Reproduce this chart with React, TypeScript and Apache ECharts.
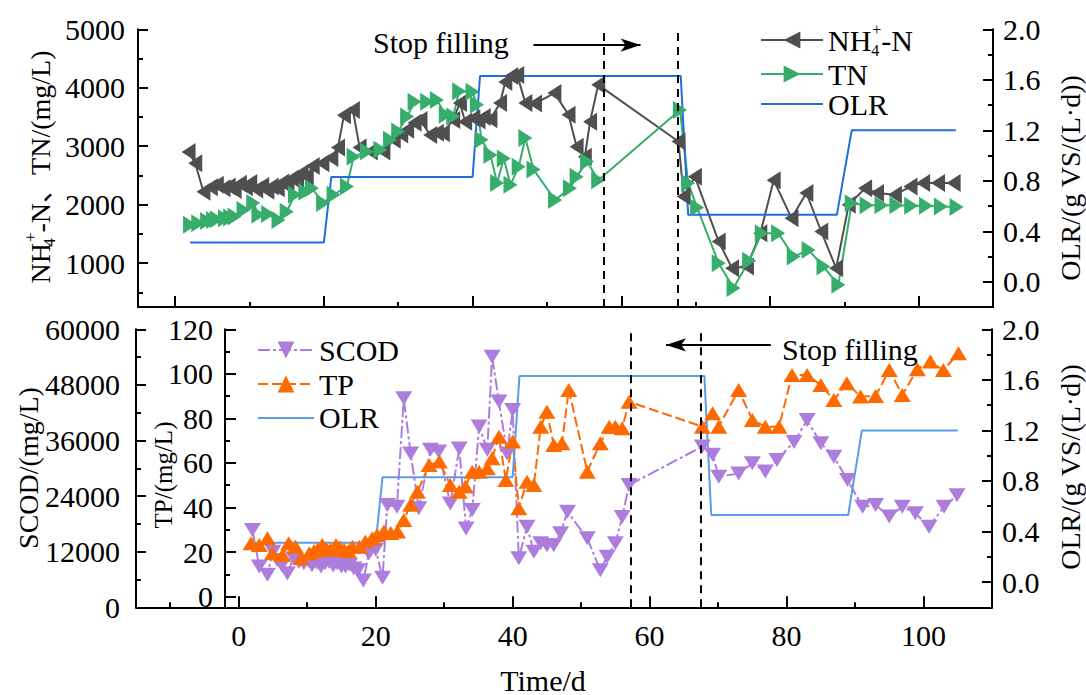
import React, { useEffect, useRef } from "react";
import * as echarts from "echarts";

const FONT = "Liberation Serif, Times New Roman, Noto Sans CJK SC, serif";
const FS = 30;

// ---------- data (day, value) ----------
const nh4Series: [number, number][] = [
  [1.8, 2900], [2.7, 2710], [3.8, 2220], [4.8, 2300], [5.6, 2340], [6.5, 2280], [7.2, 2310],
  [8.0, 2250], [8.7, 2360], [9.5, 2300], [10.1, 2370], [10.9, 2260], [11.7, 2320], [12.4, 2240],
  [13.0, 2310], [13.8, 2280], [14.4, 2380], [15.1, 2330], [15.7, 2450], [16.4, 2400], [17.0, 2540],
  [17.7, 2480], [18.5, 2660], [19.8, 2710], [21.0, 2800], [21.9, 2980], [22.7, 3530], [23.9, 3620],
  [24.8, 2980], [26.3, 2910], [28.0, 2910], [29.4, 3110], [30.4, 3200], [31.2, 3280], [32.2, 3400],
  [33.0, 3450], [34.3, 3190], [35.2, 3230], [36.0, 3220], [37.4, 3450], [38.3, 3740], [39.0, 3420],
  [40.1, 3480], [40.8, 3440], [41.5, 3500], [42.4, 3460], [43.7, 3740], [44.4, 4100], [45.2, 4200],
  [46.0, 4220], [47.1, 3740], [48.4, 3730], [51.0, 3910], [52.9, 3540], [54.0, 2990], [55.1, 2820],
  [55.8, 3420], [56.9, 4050], [67.7, 3080], [68.4, 2140], [69.9, 2480], [73.1, 1370], [74.9, 914],
  [76.9, 942], [78.7, 1510], [80.5, 2420], [82.9, 1770], [84.9, 2200], [86.9, 1540], [88.9, 914],
  [90.6, 2000], [92.8, 2280], [94.4, 2200], [96.8, 2170], [98.9, 2310], [100.6, 2370],
  [102.6, 2370], [104.7, 2370],
];

const tnSeries: [number, number][] = [
  [2.0, 1655], [3.1, 1684], [4.3, 1723], [5.1, 1740], [5.6, 1752], [6.7, 1770], [7.4, 1780],
  [8.0, 1800], [9.2, 1910], [10.5, 2030], [11.2, 1830], [12.5, 1840], [13.9, 1740], [15.0, 1880],
  [16.1, 2170], [17.5, 2220], [18.4, 2280], [19.9, 2030], [21.3, 2170], [23.1, 2310], [24.0, 2820],
  [25.8, 2910], [27.6, 2940], [28.9, 3110], [30.0, 3250], [31.2, 3510], [32.2, 3760], [33.9, 3760],
  [35.2, 3790], [36.4, 3540], [37.4, 3510], [38.2, 3940], [40.0, 3930], [40.6, 3710], [41.2, 3110],
  [42.4, 2850], [43.3, 2370], [44.2, 2790], [45.1, 2340], [46.2, 2650], [47.1, 3140], [48.2, 2600],
  [51.1, 2080], [53.1, 2280], [54.0, 2480], [55.4, 2740], [56.9, 2420], [67.9, 3620], [69.0, 2370],
  [70.2, 1950], [73.1, 1000], [75.1, 573], [77.2, 1040], [78.9, 1513], [81.1, 1513], [83.2, 1113],
  [85.2, 1227], [87.2, 942], [89.2, 629], [91.0, 2026], [93.0, 1990], [95.0, 1990], [97.0, 1990],
  [99.0, 1980], [101.0, 1980], [103.0, 1970], [105.1, 1960],
];

const olrSteps: [number, number][] = [
  [2, 0.31], [20, 0.31], [21, 0.83], [40, 0.83], [41, 1.63], [68, 1.63], [69, 0.53], [89, 0.53],
  [91, 1.2], [105, 1.2],
];

const scodSeries: [number, number][] = [
  [2.0, 16700], [3.0, 8800], [4.2, 7000], [5.0, 12000], [5.6, 10200], [6.3, 9000], [7.1, 7300],
  [8.0, 10600], [8.8, 9800], [9.5, 9500], [10.2, 10000], [10.7, 9100], [11.4, 9600], [12.0, 8800],
  [12.6, 9500], [13.2, 9800], [13.8, 9000], [14.4, 9500], [15.0, 8800], [15.6, 8800], [16.2, 9200],
  [16.8, 8400], [17.4, 8000], [18.2, 5800], [19.0, 11600], [20.0, 12500], [21.0, 6400], [21.7, 22100],
  [23.1, 21700], [24.1, 45100], [25.1, 33200], [26.3, 21400], [28.0, 34000], [29.2, 33600],
  [30.9, 22400], [32.2, 34300], [33.2, 17000], [34.1, 21000], [35.1, 39000], [36.3, 34000],
  [37.0, 54100], [38.0, 44400], [39.2, 33200], [40.0, 42600], [40.9, 10600], [42.1, 17400],
  [43.1, 12000], [44.1, 13800], [45.0, 13400], [46.0, 13400], [47.0, 16000], [48.0, 20600],
  [50.9, 14900], [52.8, 8000], [53.8, 10900], [55.0, 13800], [56.0, 19500], [57.0, 26400],
  [67.7, 34700], [69.2, 32900], [70.1, 28200], [73.0, 28900], [75.0, 31100], [76.9, 29300],
  [78.6, 31800], [81.1, 35700], [83.0, 40400], [85.0, 35400], [86.9, 32500], [88.9, 27500],
  [91.1, 21700], [93.0, 22100], [95.0, 19600], [96.9, 21700], [98.8, 20300], [100.8, 17400],
  [103.0, 21700], [104.9, 24200],
];

const tpSeries: [number, number][] = [
  [1.8, 24.0], [3.0, 23.2], [4.2, 26.2], [4.9, 19.5], [6.4, 18.7], [7.3, 24.0], [8.3, 22.4],
  [9.1, 17.2], [10.3, 19.5], [11.0, 20.5], [11.5, 21.0], [12.2, 23.2], [12.8, 21.5], [13.4, 21.0],
  [14.2, 23.2], [14.8, 22.0], [15.4, 21.0], [16.0, 20.5], [16.6, 22.4], [17.6, 22.4], [18.5, 24.7],
  [19.5, 26.2], [20.2, 27.7], [21.2, 29.2], [22.2, 28.5], [23.2, 29.2], [24.1, 34.4], [25.1, 41.2],
  [26.1, 47.1], [27.8, 59.1], [29.3, 60.6], [30.9, 50.1], [32.2, 47.1], [33.1, 49.4], [34.1, 56.1],
  [35.1, 56.1], [36.3, 57.6], [37.0, 62.1], [38.0, 71.8], [39.0, 52.4], [40.0, 69.6], [40.9, 39.7],
  [42.1, 51.6], [43.1, 50.1], [44.1, 76.3], [45.0, 83.0], [46.0, 68.1], [47.2, 68.9], [48.2, 92.8],
  [50.9, 56.1], [52.8, 68.9], [54.1, 76.3], [55.0, 76.3], [56.0, 75.6], [57.0, 87.5], [67.7, 76.3],
  [69.2, 82.3], [70.1, 76.3], [73.0, 92.8], [75.0, 79.3], [76.9, 76.3], [78.9, 76.3], [80.8, 99.5],
  [83.0, 99.5], [85.0, 95.0], [86.9, 88.3], [88.8, 95.8], [90.8, 89.8], [93.0, 90.1], [95.0, 101.7],
  [96.9, 90.5], [99.1, 102.1], [101.0, 105.5], [102.9, 101.7], [105.1, 109.2],
];

const stopDaysTop = [57.7, 67.6];
const stopDaysBottom = [57.2, 67.4];
const arrowTop: [number, number][] = [[48.2, 4730], [62.6, 4730]];
const arrowBottom: [number, number][] = [[77.7, 113], [62.4, 113]];

// ---------- ticks ----------
const xMajor = [0, 20, 40, 60, 80, 100];
const xMinorTop = [10, 30, 50, 70, 90];
const xMinorBottom = [-10, 10, 30, 50, 70, 90];
const nLabels = [1000, 2000, 3000, 4000, 5000];
const nMinor = [500, 1500, 2500, 3500, 4500];
const olrLabels = [0, 0.4, 0.8, 1.2, 1.6, 2.0];
const olrMinor = [0.2, 0.6, 1.0, 1.4, 1.8];
const scodLabels = [0, 12000, 24000, 36000, 48000, 60000];
const scodMinor = [6000, 18000, 30000, 42000, 54000];
const tpLabels = [0, 20, 40, 60, 80, 100, 120];
const tpMinor = [10, 30, 50, 70, 90, 110];

// ---------- styles ----------
const C_NH4 = "#4f4f4f";
const C_TN = "#37ad6b";
const C_SCOD = "#ad7ddd";
const C_TP = "#ff6a00";
const C_OLR1 = "#1f6ede";
const C_OLR2 = "#5b9ce9";
const LEFT = "path://M0,10L17,0L17,20Z";
const RIGHT = "path://M17,10L0,0L0,20Z";
const DOWN = "path://M0,0L20,0L10,16Z";
const UP = "path://M10,0L20,16L0,16Z";
const AX = { color: "#000", width: 2 };

const rich = {
  a: { fontSize: FS, fontFamily: FONT, color: "#000", lineHeight: 38 },
  s: { fontSize: 16, fontFamily: FONT, color: "#000", lineHeight: 18, verticalAlign: "bottom", width: 1 },
  p: { fontSize: 16, fontFamily: FONT, color: "#000", lineHeight: 18, verticalAlign: "top" },
};
const richT = {
  a: { fontSize: 28, fontFamily: FONT, fill: "#000", lineHeight: 36 },
  s: { fontSize: 17, fontFamily: FONT, fill: "#000", lineHeight: 36, verticalAlign: "bottom", width: 1 },
  p: { fontSize: 17, fontFamily: FONT, fill: "#000", lineHeight: 36, verticalAlign: "top" },
};

function axisDef(o: any) {
  return {
    type: "value",
    gridIndex: o.grid,
    position: o.position,
    min: o.min,
    max: o.max,
    offset: o.offset || 0,
    axisLine: { show: o.line !== false, onZero: false, lineStyle: AX },
    axisTick: { show: true, inside: true, length: o.tickLen, customValues: o.ticks, lineStyle: AX },
    axisLabel: o.labels
      ? {
          show: true,
          customValues: o.labels,
          margin: o.margin,
          color: "#000",
          fontSize: o.fontSize || FS,
          fontFamily: FONT,
          formatter: o.formatter || ((v: number) => String(v)),
        }
      : { show: false },
    splitLine: { show: false },
  };
}

const fmt1 = (v: number) => v.toFixed(1);
const textStyle = (size: number) => ({ fontSize: size, fontFamily: FONT, fill: "#000", align: "center", verticalAlign: "middle" });
const hiddenSymbol = { opacity: 0, color: "transparent", borderWidth: 0 };

const option: any = {
  animation: false,
  backgroundColor: "#fff",
  textStyle: { fontFamily: FONT },
  grid: [
    { left: 138, top: 29.3, width: 855, height: 277.7 },
    { left: 136, top: 329.3, width: 856, height: 278 },
  ],
  xAxis: [
    axisDef({ grid: 0, position: "bottom", min: -5, max: 110, ticks: xMajor, tickLen: 11 }),
    axisDef({ grid: 0, position: "bottom", min: -5, max: 110, ticks: xMinorTop, tickLen: 5, line: false }),
    axisDef({ grid: 1, position: "bottom", min: -15, max: 110, ticks: xMajor, tickLen: 11, labels: xMajor, margin: 13 }),
    axisDef({ grid: 1, position: "bottom", min: -15, max: 110, ticks: xMinorBottom, tickLen: 5, line: false }),
  ],
  yAxis: [
    axisDef({ grid: 0, position: "left", min: 250, max: 5000, ticks: nLabels, tickLen: 10, labels: nLabels, margin: 13 }),
    axisDef({ grid: 0, position: "left", min: 250, max: 5000, ticks: nMinor, tickLen: 5, line: false }),
    axisDef({ grid: 0, position: "right", min: -0.2, max: 2.0, ticks: olrLabels, tickLen: 10, labels: olrLabels, margin: 10, formatter: fmt1 }),
    axisDef({ grid: 0, position: "right", min: -0.2, max: 2.0, ticks: olrMinor, tickLen: 5, line: false }),
    axisDef({ grid: 1, position: "left", min: 0, max: 60000, ticks: scodLabels, tickLen: 10, labels: scodLabels, margin: 16 }),
    axisDef({ grid: 1, position: "left", min: 0, max: 60000, ticks: scodMinor, tickLen: 5, line: false }),
    axisDef({ grid: 1, position: "left", offset: -89, min: -4.8, max: 120, ticks: tpLabels, tickLen: 11, labels: tpLabels, margin: 12 }),
    axisDef({ grid: 1, position: "left", offset: -89, min: -4.8, max: 120, ticks: tpMinor, tickLen: 5, line: false }),
    axisDef({ grid: 1, position: "right", min: -0.2, max: 2.0, ticks: olrLabels, tickLen: 10, labels: olrLabels, margin: 10, formatter: fmt1 }),
    axisDef({ grid: 1, position: "right", min: -0.2, max: 2.0, ticks: olrMinor, tickLen: 5, line: false }),
  ],
  legend: [
    {
      data: ["NH4+-N", "TN", { name: "OLR", itemStyle: hiddenSymbol }],
      orient: "vertical",
      left: 755,
      top: 16,
      itemWidth: 62,
      itemHeight: 21,
      itemGap: 0,
      selectedMode: false,
      formatter: (n: string) => (n === "NH4+-N" ? "{a|NH}{s|4}{p|+}{a|-N}" : "{a|" + n + "}"),
      textStyle: { rich },
    },
    {
      data: ["SCOD", "TP", { name: "OLR ", itemStyle: hiddenSymbol }],
      orient: "vertical",
      left: 252,
      top: 330,
      itemWidth: 56,
      itemHeight: 21,
      itemGap: 4,
      selectedMode: false,
      formatter: (n: string) => "{a|" + n.trim() + "}",
      textStyle: { rich: { a: { ...rich.a, lineHeight: 28 } } },
    },
  ],
  series: [
    {
      name: "NH4+-N",
      type: "line",
      xAxisIndex: 0,
      yAxisIndex: 0,
      data: nh4Series,
      symbol: LEFT,
      symbolSize: [14, 18],
      itemStyle: { color: C_NH4 },
      lineStyle: { color: C_NH4, width: 2 },
      markLine: {
        silent: true,
        symbol: "none",
        label: { show: false },
        lineStyle: { color: "#000", type: [8, 6], width: 2 },
        data: stopDaysTop.map((d) => ({ xAxis: d })),
      },
    },
    {
      name: "TN",
      type: "line",
      xAxisIndex: 0,
      yAxisIndex: 0,
      data: tnSeries,
      symbol: RIGHT,
      symbolSize: [14, 18],
      itemStyle: { color: C_TN },
      lineStyle: { color: C_TN, width: 2 },
      markLine: {
        silent: true,
        label: { show: false },
        lineStyle: { color: "#000", type: "solid", width: 2 },
        data: [[
          { coord: arrowTop[0], symbol: "none" },
          { coord: arrowTop[1], symbol: "arrow", symbolSize: [10, 20] },
        ]],
      },
    },
    {
      name: "OLR",
      type: "line",
      xAxisIndex: 0,
      yAxisIndex: 2,
      data: olrSteps,
      symbol: "none",
      itemStyle: { color: C_OLR1 },
      lineStyle: { color: C_OLR1, width: 2 },
    },
    {
      name: "SCOD",
      type: "line",
      xAxisIndex: 2,
      yAxisIndex: 4,
      data: scodSeries,
      symbol: DOWN,
      symbolSize: [17, 14],
      itemStyle: { color: C_SCOD },
      lineStyle: { color: C_SCOD, width: 2, type: [12, 3, 3, 3] },
      markLine: {
        silent: true,
        symbol: "none",
        label: { show: false },
        lineStyle: { color: "#000", type: [8, 6], width: 2 },
        data: stopDaysBottom.map((d) => ({ xAxis: d })),
      },
    },
    {
      name: "TP",
      type: "line",
      xAxisIndex: 2,
      yAxisIndex: 6,
      data: tpSeries,
      symbol: UP,
      symbolSize: [17, 14],
      itemStyle: { color: C_TP },
      lineStyle: { color: C_TP, width: 2, type: [10, 4] },
      markLine: {
        silent: true,
        label: { show: false },
        lineStyle: { color: "#000", type: "solid", width: 2 },
        data: [[
          { coord: arrowBottom[0], symbol: "none" },
          { coord: arrowBottom[1], symbol: "arrow", symbolSize: [10, 20] },
        ]],
      },
    },
    {
      name: "OLR ",
      type: "line",
      xAxisIndex: 2,
      yAxisIndex: 8,
      data: olrSteps,
      symbol: "none",
      itemStyle: { color: C_OLR2 },
      lineStyle: { color: C_OLR2, width: 2 },
    },
  ],
  graphic: [
    {
      type: "text",
      x: 40,
      y: 167,
      rotation: Math.PI / 2,
      style: { text: "{a|NH}{s|4}{p|+}{a|-N、TN/(mg/L)}", rich: richT, align: "center", verticalAlign: "middle" },
    },
    { type: "text", x: 28, y: 468, rotation: Math.PI / 2, style: { text: "SCOD/(mg/L)", ...textStyle(28) } },
    { type: "text", x: 163, y: 475, rotation: Math.PI / 2, style: { text: "TP/(mg/L)", ...textStyle(25) } },
    { type: "text", x: 1070, y: 178, rotation: Math.PI / 2, style: { text: "OLR/(g VS/(L·d))", ...textStyle(28) } },
    { type: "text", x: 1070, y: 467, rotation: Math.PI / 2, style: { text: "OLR/(g VS/(L·d))", ...textStyle(28) } },
    { type: "text", x: 543, y: 680, style: { text: "Time/d", ...textStyle(FS) } },
    { type: "text", x: 373, y: 42, style: { text: "Stop filling", ...textStyle(FS), align: "left" } },
    { type: "text", x: 782, y: 349, style: { text: "Stop filling", ...textStyle(FS), align: "left" } },
  ],
};

export default function App() {
  const ref = useRef<HTMLDivElement>(null);
  useEffect(() => {
    if (!ref.current) return;
    const chart = echarts.init(ref.current, null, { renderer: "svg" });
    chart.setOption(option);
    return () => chart.dispose();
  }, []);
  return (
    <div
      ref={ref}
      style={{ position: "fixed", left: 0, top: 0, width: 1086, height: 695, background: "#fff" }}
    />
  );
}
